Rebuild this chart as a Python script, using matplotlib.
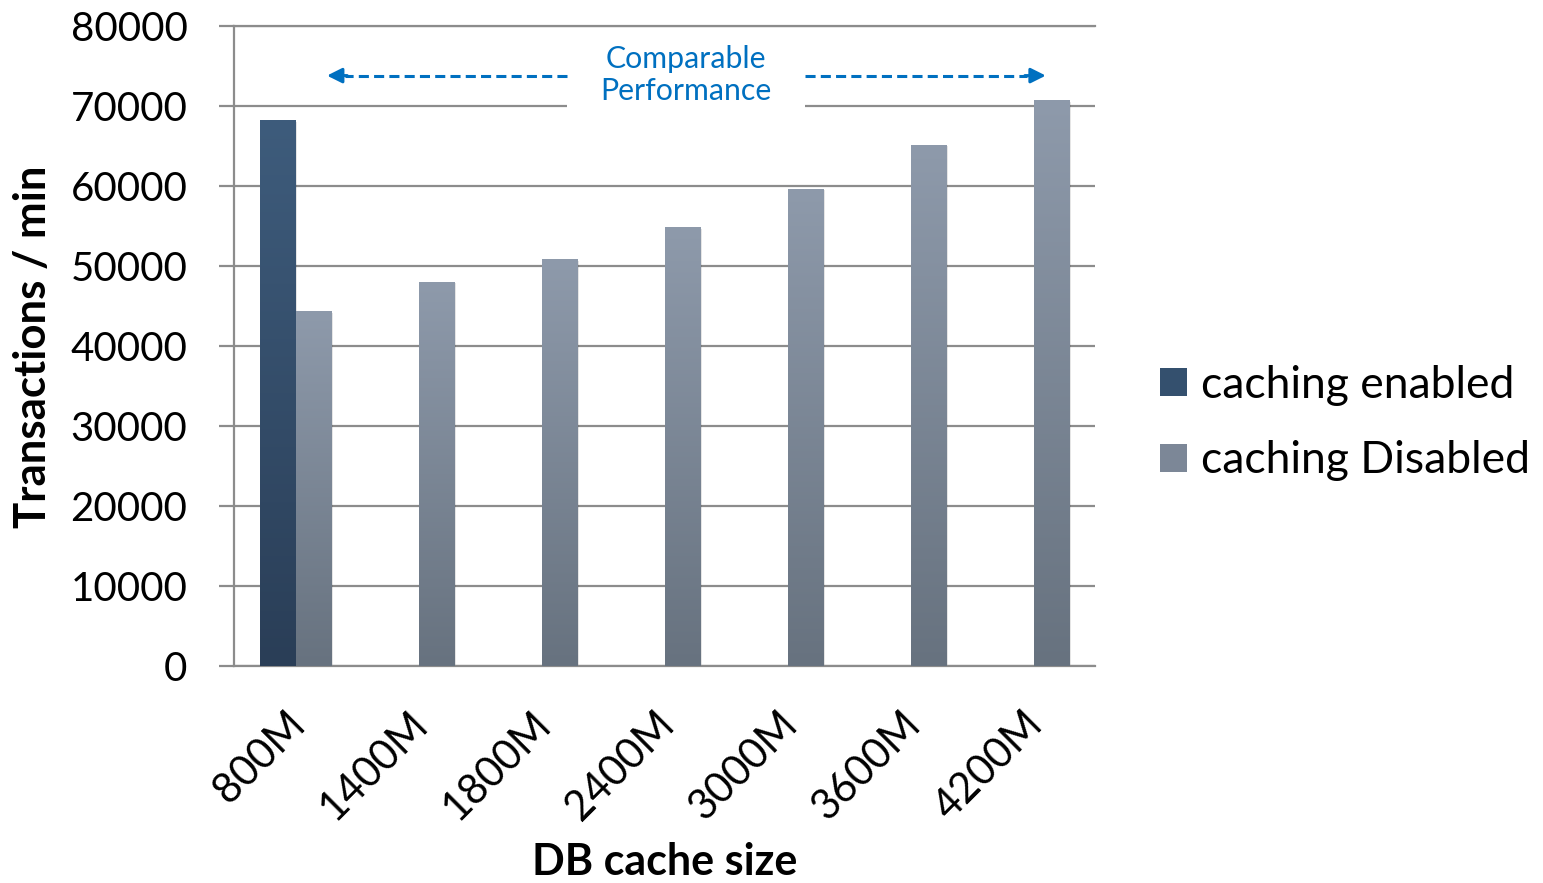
import numpy as np
import matplotlib
matplotlib.use("Agg")
import matplotlib.pyplot as plt
import matplotlib.transforms as mtransforms
from matplotlib.colors import LinearSegmentedColormap
from matplotlib.patches import Patch, Rectangle

categories = ["800M", "1400M", "1800M", "2400M", "3000M", "3600M", "4200M"]
caching_enabled = [68200, np.nan, np.nan, np.nan, np.nan, np.nan, np.nan]
caching_disabled = [44300, 48000, 50800, 54800, 59600, 65100, 70700]
series_names = ["caching enabled", "caching Disabled"]
y_ticks = [0, 10000, 20000, 30000, 40000, 50000, 60000, 70000, 80000]

plt.rcParams['font.family'] = ['Lato', 'DejaVu Sans']

W, H = 1543, 883
fig = plt.figure(figsize=(W / 100, H / 100), dpi=100)
ax = fig.add_axes([234 / W, 1 - 666 / H, 861 / W, 640 / H])

x = np.arange(len(categories))
bw = 0.29
en_top, en_bot = "#3e5c7c", "#2a3e57"
dis_top, dis_bot = "#8e9aab", "#67727f"

b1 = ax.bar(x - bw / 2, caching_enabled, bw, color=en_top, zorder=3, label=series_names[0])
b2 = ax.bar(x + bw / 2, caching_disabled, bw, color=dis_top, zorder=3, label=series_names[1])

grad = np.linspace(0, 1, 256).reshape(-1, 1)
for bars, top, bot in ((b1, en_top, en_bot), (b2, dis_top, dis_bot)):
    cmap = LinearSegmentedColormap.from_list("g", [top, bot])
    for p in bars:
        h = p.get_height()
        if not np.isfinite(h) or h <= 0:
            continue
        x0 = p.get_x()
        ax.add_patch(Rectangle((x0 + 0.012, 0), p.get_width(), h - 150, facecolor="#000000",
                               alpha=0.10, zorder=2.5, linewidth=0))
        ax.imshow(grad, extent=[x0, x0 + p.get_width(), 0, h], origin="upper", cmap=cmap,
                  aspect="auto", zorder=3.5, interpolation="bicubic")

ax.set_xlim(-0.5, len(categories) - 0.5)
ax.set_ylim(0, 80000)
ax.set_yticks(y_ticks)
ax.set_yticklabels([str(v) for v in y_ticks], fontsize=29)
ax.set_xticks(x)
ax.set_xticklabels(categories, rotation=45, ha="right", va="top", rotation_mode="anchor", fontsize=30)

grid_c = "#8c8c8c"
ax.yaxis.grid(True, color=grid_c, linewidth=1.6, zorder=1)
ax.set_axisbelow(True)
for s in ("top", "right"):
    ax.spines[s].set_visible(False)
for s in ("left", "bottom"):
    ax.spines[s].set_color(grid_c)
    ax.spines[s].set_linewidth(1.6)
ax.tick_params(axis="y", length=10.5, width=1.6, color=grid_c, pad=23)
ax.tick_params(axis="x", length=0, pad=28)
ax.axhline(80000, color=grid_c, linewidth=1.6, zorder=1, clip_on=False)

# annotation with white box
blue = "#0070c0"
ax.add_patch(Rectangle((2.207, 69300), 4.142 - 2.207, 9500, facecolor="white", edgecolor="none", zorder=2))
ax.text(3.17, 73900, "Comparable\nPerformance", ha="center", va="center", color=blue,
        fontsize=21.8, linespacing=1.2, zorder=5)
ya = 73800
ax.plot([2.207, 0.40], [ya, ya], color=blue, lw=2.2, linestyle=(0, (3.3, 1.7)), zorder=5)
ax.plot([4.142, 5.95], [ya, ya], color=blue, lw=2.2, linestyle=(0, (3.3, 1.7)), zorder=5)
ax.annotate("", xy=(0.256, ya), xytext=(0.42, ya),
            arrowprops=dict(arrowstyle="-|>,head_length=0.9,head_width=0.45", color=blue, lw=2.2,
                            shrinkA=0, shrinkB=0), zorder=6)
ax.annotate("", xy=(6.10, ya), xytext=(5.93, ya),
            arrowprops=dict(arrowstyle="-|>,head_length=0.9,head_width=0.45", color=blue, lw=2.2,
                            shrinkA=0, shrinkB=0), zorder=6)

# axis labels
fig.text(33 / W, 1 - 347 / H, "Transactions / min", rotation=90, ha="center", va="center",
         fontsize=31.5, fontweight="bold")
fig.text(665 / W, 1 - 862 / H, "DB cache size", ha="center", va="center", fontsize=31, fontweight="bold")

# legend
handles = [Patch(facecolor="#34506e", edgecolor="none"), Patch(facecolor="#7c8797", edgecolor="none")]
fig.legend(handles, series_names, loc="center left", bbox_to_anchor=(1160 / W, 1 - 423 / H),
           frameon=False, fontsize=32, handlelength=0.6, handleheight=0.6, handletextpad=0.32,
           labelspacing=0.78, borderaxespad=0, borderpad=0)

# shift rotated category labels slightly left
fig.canvas.draw()
shift = mtransforms.ScaledTranslation(-10 / 100, 0, fig.dpi_scale_trans)
for tick in ax.xaxis.get_major_ticks():
    tick.label1.set_transform(tick.label1.get_transform() + shift)

fig.savefig("out.png", dpi=100)
